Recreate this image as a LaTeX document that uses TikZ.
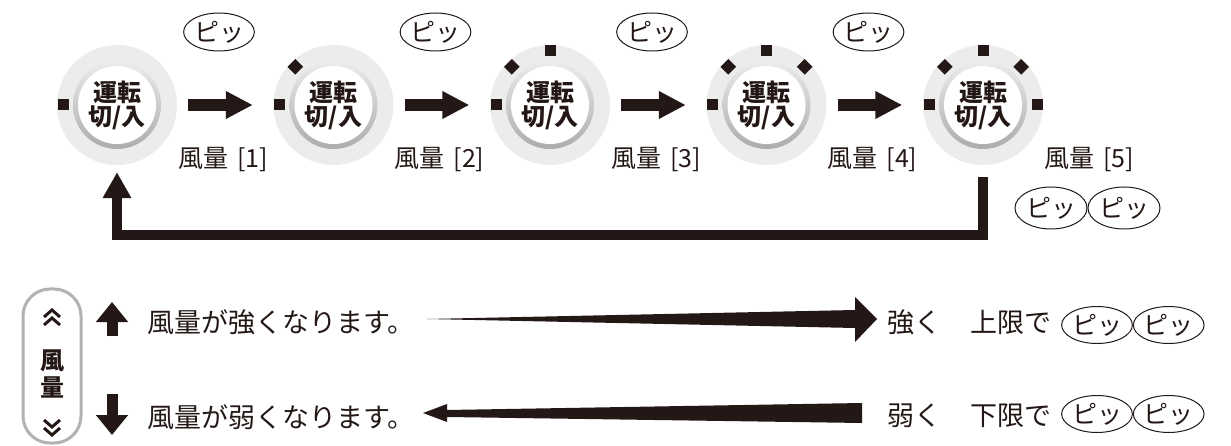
\documentclass[tikz,border=0pt]{standalone}
\usepackage{fontspec}
\newfontfamily\jp{Noto Sans CJK JP}
\usetikzlibrary{positioning,shapes.geometric,arrows.meta}
\definecolor{ink}{RGB}{35,24,21}
\definecolor{ringc}{RGB}{236,236,236}
\tikzset{
  btn/.style={circle,minimum size=78pt,fill=white,inner sep=0pt,align=center,text=ink,
    font=\jp\bfseries\fontsize{24}{24}\selectfont},
  mk/.style={fill=ink,minimum size=11pt,inner sep=0pt},
  pi/.style={ellipse,draw=ink,line width=1pt,minimum width=68pt,minimum height=38pt,inner sep=0pt,
    text=ink,font=\jp\fontsize{25}{25}\selectfont},
  lbl/.style={inner sep=0pt,text=ink,font=\jp\fontsize{25}{25}\selectfont},
  txt/.style={inner sep=0pt,anchor=west,text=ink,font=\jp\fontsize{27}{27}\selectfont},
  fat/.style={draw=ink,line width=12pt,-{Triangle[length=27pt,width=26pt]}},
}
\begin{document}
\begin{tikzpicture}[x=1pt,y=-1pt]
  \useasboundingbox (0,0) rectangle (1231,446);
  \foreach \i in {1,...,5} {
    \pgfmathsetmacro\cx{117+216.5*(\i-1)}
    \fill[ringc] (\cx,105) circle (60pt);
    \shade[top color=gray!15,bottom color=gray!65] (\cx,105) circle (44pt);
    \node[btn] (b\i) at (\cx,105) {運転\\切/入};
    \node[lbl] (l\i) at (\cx+106,160) {風量\hspace{9pt}[\i]};
    \ifnum\i<5 \node[pi] (p\i) at (\cx+102,32) {ピッ}; \fi
  }
  \foreach \i in {1,...,5}
    \foreach \a [count=\k] in {180,135,90,45,0} {
      \ifnum\k>\i\else
        \node[mk,rotate=\a] (m\i-\k) at ([shift={(\a:54pt)}]b\i.center) {};
      \fi
    }
  \foreach \i [evaluate=\i as \j using int(\i+1)] in {1,...,4}
    \draw[fat,shorten <=32pt,shorten >=41.5pt] (b\i) -- (b\j);

  \node[pi,minimum width=72pt,minimum height=42pt] (p5a) at (1051,208) {ピッ};
  \node[pi,minimum width=72pt,minimum height=42pt,right=0pt of p5a] (p5b) {ピッ};

  \coordinate (cr) at (983,235);
  \coordinate (cl) at (117,235);
  \draw[ink,line width=10pt,-{Triangle[length=26pt,width=27pt]},shorten <=33pt,shorten >=28pt]
    (b5.south) -- (cr) -- (cl) -- (b1.south);

  \node[draw=gray!60,line width=3pt,rounded corners=27pt,minimum width=58pt,minimum height=154pt] (pill) at (52,366) {};
  \node[lbl,font=\jp\bfseries\fontsize{24}{24}\selectfont] (fu) at (52,361) {風};
  \node[lbl,font=\jp\bfseries\fontsize{24}{24}\selectfont] (ry) at (52,387) {量};
  \draw[ink,line width=3pt] (44,317) -- (52,310) -- (60,317) (44,325) -- (52,318) -- (60,325);
  \draw[ink,line width=3pt] (44,420) -- (52,427) -- (60,420) (44,428) -- (52,435) -- (60,428);

  \coordinate (ua) at (112,336);
  \coordinate (ub) at (112,302);
  \coordinate (da) at (112,394);
  \coordinate (db) at (112,435);
  \draw[ink,line width=11pt,-{Triangle[length=20pt,width=31pt]}] (ua) -- (ub);
  \draw[ink,line width=11pt,-{Triangle[length=20pt,width=31pt]}] (da) -- (db);

  \node[txt] (t1) at (147,322) {風量が強くなります。};
  \node[txt] (t2) at (147,417) {風量が弱くなります。};

  \fill[ink] (427,319) -- (855,310) -- (855,297) -- (877,319) -- (855,342) -- (855,328) -- cycle;
  \fill[ink] (862,403) -- (862,423) -- (447,417) -- (447,422) -- (423,413) -- (447,404) -- (447,410) -- cycle;

  \node[txt] (s1) at (887,322) {強く};
  \node[txt] (u1) at (970,322) {上限で};
  \node[pi,minimum width=70pt,minimum height=37pt] (q1) at (1097,325) {ピッ};
  \node[pi,minimum width=70pt,minimum height=37pt,right=0pt of q1] (q2) {ピッ};
  \node[txt] (s2) at (887,416) {弱く};
  \node[txt] (u2) at (970,416) {下限で};
  \node[pi,minimum width=70pt,minimum height=37pt] (q3) at (1097,414) {ピッ};
  \node[pi,minimum width=70pt,minimum height=37pt,right=0pt of q3] (q4) {ピッ};
\end{tikzpicture}
\end{document}
